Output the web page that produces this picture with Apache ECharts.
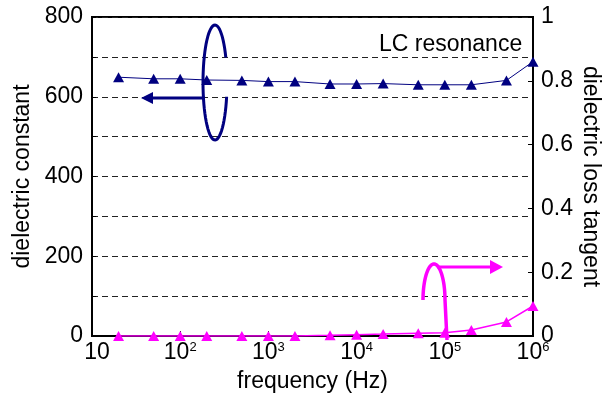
<!DOCTYPE html>
<html>
<head>
<meta charset="utf-8">
<script src="https://cdn.jsdelivr.net/npm/echarts@6/dist/echarts.min.js"></script>
<style>
  html, body { margin: 0; padding: 0; background: #fff; }
  #chart { width: 604px; height: 402px; }
</style>
</head>
<body>
<div id="chart"></div>
<script>
// frequency (Hz)
var freqs = [20, 50, 100, 200, 500, 1000, 2000, 5000, 1e4, 2e4, 5e4, 1e5, 2e5, 5e5, 1e6];
// dielectric constant (left axis)
var epsValues = [649, 645, 645, 642, 641, 638, 638, 632, 632, 633, 630, 630, 630, 641, 688];
// dielectric loss tangent (right axis)
var lossValues = [0, 0, 0, 0, 0, 0, 0, 0.002, 0.004, 0.006, 0.009, 0.01, 0.019, 0.044, 0.094];

var leftTicks = [0, 200, 400, 600, 800];
var rightTicks = ['0', '0.2', '0.4', '0.6', '0.8', '1'];

var NAVY = '#000080';
var MAGENTA = '#ff00ff';
var FONT = 'Liberation Sans';

function pairs(xs, ys) {
  var out = [];
  for (var i = 0; i < xs.length; i++) out.push([xs[i], ys[i]]);
  return out;
}

// open ellipse outline (annotation only)
function arcPoints(cx, cy, rx, ry, a0, a1) {
  var pts = [];
  var n = 60;
  for (var i = 0; i <= n; i++) {
    var t = a0 + (a1 - a0) * i / n;
    pts.push([cx + rx * Math.cos(t), cy + ry * Math.sin(t)]);
  }
  return pts;
}

var magArc = arcPoints(434, 300, 11, 36, Math.PI, 2 * Math.PI);
magArc.push([447, 340]);

var chart = echarts.init(document.getElementById('chart'));
chart.setOption({
  animation: false,
  textStyle: { fontFamily: FONT, color: '#000' },
  grid: {
    left: 92, right: 71, top: 17, bottom: 66,
    outerBoundsMode: 'none', containLabel: false,
    show: true, borderColor: '#000', borderWidth: 2
  },
  xAxis: {
    type: 'log', logBase: 10, min: 10, max: 1e6,
    name: 'frequency (Hz)', nameLocation: 'middle', nameGap: 34,
    nameTextStyle: { fontSize: 23, color: '#000', fontFamily: FONT },
    axisLine: { lineStyle: { color: '#000', width: 2 } },
    axisTick: { inside: true, length: 5, lineStyle: { color: '#000' } },
    minorTick: { show: false },
    splitLine: { show: false },
    axisLabel: {
      margin: 5,
      formatter: function (v) {
        var e = Math.round(Math.log10(v));
        return e === 1 ? '{c|10}' : '{b|10}{s|' + e + '}';
      },
      rich: {
        b: { fontSize: 23, fontFamily: FONT, color: '#000', verticalAlign: 'top' },
        c: { fontSize: 23, fontFamily: FONT, color: '#000', verticalAlign: 'top', padding: [0, 0, 0, 10] },
        s: { fontSize: 13, fontFamily: FONT, color: '#000', verticalAlign: 'top' }
      }
    }
  },
  yAxis: [{
    type: 'value', min: 0, max: 800, interval: 100,
    name: 'dielectric constant', nameLocation: 'middle', nameGap: 58,
    nameTextStyle: { fontSize: 23, color: '#000', fontFamily: FONT },
    axisLine: { show: true, lineStyle: { color: '#000', width: 2 } },
    axisTick: { show: true, inside: true, length: 4, lineStyle: { color: '#000' } },
    axisLabel: {
      fontSize: 23, color: '#000', margin: 9,
      formatter: function (v) { return leftTicks.indexOf(v) >= 0 ? String(v) : ''; }
    },
    splitLine: { show: true, lineStyle: { color: '#222', type: [6, 4], width: 1 } }
  }, {
    type: 'value', min: 0, max: 1, interval: 0.2, position: 'right',
    name: 'dielectric loss tangent', nameLocation: 'middle', nameGap: 46, nameRotate: -90,
    nameTextStyle: { fontSize: 23, color: '#000', fontFamily: FONT },
    nameMoveOverlap: false,
    axisLine: { show: true, lineStyle: { color: '#000', width: 2 } },
    axisTick: { show: true, inside: true, length: 5, lineStyle: { color: '#000' } },
    axisLabel: {
      fontSize: 23, color: '#000', margin: 8,
      formatter: function (v) { return rightTicks[Math.round(v * 5)]; }
    },
    splitLine: { show: false }
  }],
  series: [{
    name: 'dielectric constant',
    type: 'line',
    data: pairs(freqs, epsValues),
    yAxisIndex: 0,
    symbol: 'triangle', symbolSize: [11, 10],
    itemStyle: { color: NAVY },
    lineStyle: { color: NAVY, width: 1 },
    z: 3
  }, {
    name: 'dielectric loss tangent',
    type: 'line',
    data: pairs(freqs, lossValues),
    yAxisIndex: 1,
    symbol: 'triangle', symbolSize: [11, 10],
    itemStyle: { color: MAGENTA },
    lineStyle: { color: MAGENTA, width: 1.5 },
    z: 3
  }],
  graphic: [
    {
      type: 'polyline', z: 10,
      shape: { points: arcPoints(215, 82.5, 12, 57.5, 0.25, 2 * Math.PI - 0.45) },
      style: { stroke: NAVY, lineWidth: 3, fill: null }
    },
    {
      type: 'line', z: 10,
      shape: { x1: 205, y1: 98, x2: 150, y2: 98 },
      style: { stroke: NAVY, lineWidth: 3 }
    },
    {
      type: 'polygon', z: 10,
      shape: { points: [[141, 98], [153, 92], [153, 104]] },
      style: { fill: NAVY }
    },
    {
      type: 'polyline', z: 10,
      shape: { points: magArc },
      style: { stroke: MAGENTA, lineWidth: 3.5, fill: null }
    },
    {
      type: 'line', z: 10,
      shape: { x1: 437, y1: 267, x2: 492, y2: 267 },
      style: { stroke: MAGENTA, lineWidth: 3 }
    },
    {
      type: 'polygon', z: 10,
      shape: { points: [[503, 267], [490, 260], [490, 274]] },
      style: { fill: MAGENTA }
    },
    {
      type: 'text', z: 10, left: 379, top: 33,
      style: { text: 'LC resonance', fontSize: 23, fontFamily: FONT, fill: '#000' }
    }
  ]
});
</script>
</body>
</html>
